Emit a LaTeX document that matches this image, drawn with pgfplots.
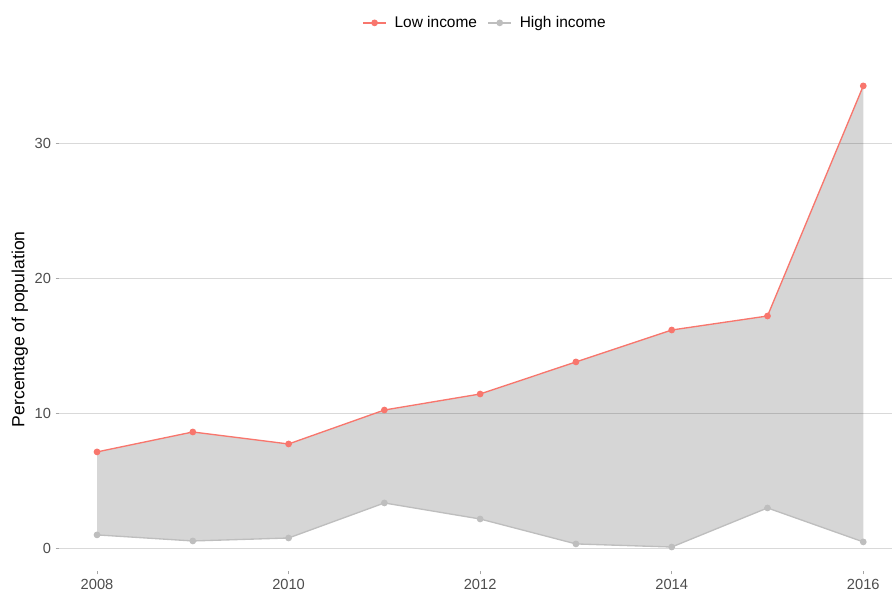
\documentclass[border=0pt]{standalone}
\usepackage{fontspec}
\setmainfont{Liberation Sans}
\usepackage{pgfplots}
\pgfplotsset{compat=1.18}

\definecolor{lowred}{HTML}{F8766D}
\definecolor{highgray}{HTML}{BEBEBE}
\definecolor{ribbon}{HTML}{D6D6D6}
\definecolor{ticktxt}{HTML}{4D4D4D}

\begin{document}
\begin{tikzpicture}
\begin{axis}[
    set layers=standard,
    at={(44.25pt,16.5pt)}, anchor=south west,
    scale only axis, width=624.75pt, height=381pt,
    xmin=2007.603, xmax=2016.30, ymin=-1.71, ymax=36.0,
    xtick={2008,2010,2012,2014,2016}, ytick={0,10,20,30},
    xtick pos=lower, ytick pos=left,
    xticklabel style={/pgf/number format/1000 sep={}},
    /pgf/number format/assume math mode=true,
    tick label style={font=\fontsize{11}{13}\selectfont, text=ticktxt},
    axis line style={draw=none},
    tick align=outside, major tick length=2.5pt,
    tick style={draw=gray!70, line width=0.5pt},
    ymajorgrids, grid style={black, opacity=0.15, line width=0.6pt},
    ylabel={Percentage of population},
    ylabel style={font=\fontsize{13.2}{15}\selectfont, at={(axis description cs:-0.047,0.476)}, anchor=center},
    legend columns=2,
    legend style={draw=none, fill=none, font=\fontsize{11.6}{13}\selectfont,
        at={(axis description cs:0.512,1.079)}, anchor=center,
        /tikz/every odd column/.append style={column sep=4pt},
        /tikz/every even column/.append style={column sep=6pt}},
    legend image code/.code={
        \draw[#1] (0pt,0pt) -- (17pt,0pt);
        \fill[#1] (8.5pt,0pt) circle (2pt);},
]
% ribbon between the two series (low forward, high backward)
\addplot[fill=ribbon, draw=none, forget plot, on layer=axis background] coordinates {
    (2008,7.13) (2009,8.61) (2010,7.72) (2011,10.24) (2012,11.43)
    (2013,13.81) (2014,16.18) (2015,17.22) (2016,34.3)
    (2016,0.45) (2015,2.97) (2014,0.07) (2013,0.3) (2012,2.15)
    (2011,3.34) (2010,0.74) (2009,0.52) (2008,0.97)
} -- cycle;
\addplot[lowred, line width=1pt, mark=*, mark size=2pt] coordinates {
    (2008,7.13) (2009,8.61) (2010,7.72) (2011,10.24) (2012,11.43)
    (2013,13.81) (2014,16.18) (2015,17.22) (2016,34.3)
};
\addlegendentry{Low income}
\addplot[highgray, line width=1pt, mark=*, mark size=2pt] coordinates {
    (2008,0.97) (2009,0.52) (2010,0.74) (2011,3.34) (2012,2.15)
    (2013,0.3) (2014,0.07) (2015,2.97) (2016,0.45)
};
\addlegendentry{High income}
\end{axis}
\pgfresetboundingbox
\path[use as bounding box] (0,0) rectangle (669pt,444.75pt);
\end{tikzpicture}
\end{document}
